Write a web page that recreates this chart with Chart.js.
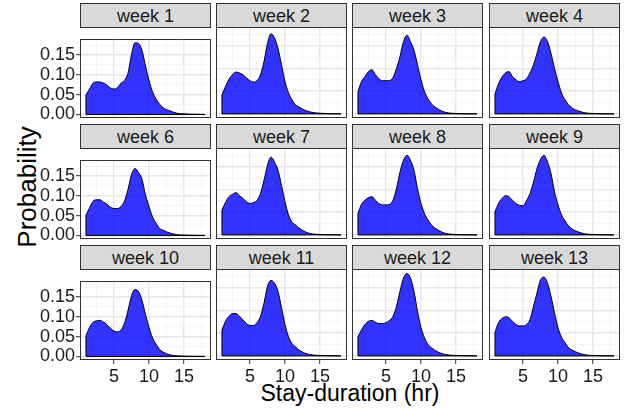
<!DOCTYPE html>
<html>
<head>
<meta charset="utf-8">
<script src="https://cdn.jsdelivr.net/npm/chart.js@4.4.0/dist/chart.umd.min.js"></script>
<style>
  body { margin: 0; background: #fff; }
  #fig { position: relative; width: 635px; height: 410px; overflow: hidden;
         font-family: 'Liberation Sans', Arial, sans-serif; }
  .strip { position: absolute; box-sizing: border-box; background: #d9d9d9;
           border: 1px solid #333; color: #1a1a1a; font-size: 18px;
           text-align: center; line-height: 22px; padding-top: 1px; }
  .panel { position: absolute; }
  .axis-title { position: absolute; color: #000; white-space: nowrap; }
</style>
</head>
<body>
<div id="fig">
  <div class="axis-title" id="ytitle">Probability</div>
  <div class="axis-title" id="xtitle">Stay-duration (hr)</div>
</div>
<script>
// stay-duration grid (hr), shared by every week
const durations = [1, 1.5, 2, 2.5, 3, 3.5, 4, 4.5, 5, 5.5, 6, 6.5, 7, 7.5, 8, 8.5, 9, 9.5,
                   10, 10.5, 11, 11.5, 12, 13, 14, 15, 16, 17, 18];

const weeks = ['week 1', 'week 2', 'week 3', 'week 4', 'week 6', 'week 7',
               'week 8', 'week 9', 'week 10', 'week 11', 'week 12', 'week 13'];

// density per week, one value per entry of `durations`
const week1  = [0.049, 0.064, 0.079, 0.082, 0.082, 0.079, 0.074, 0.067, 0.064, 0.068, 0.079, 0.086, 0.104, 0.151, 0.181, 0.179, 0.162, 0.122, 0.086, 0.057, 0.039, 0.026, 0.017, 0.009, 0.003, 0.0015, 0.0007, 0.0003, 0.0001];
const week2  = [0.042, 0.060, 0.076, 0.086, 0.092, 0.090, 0.086, 0.079, 0.073, 0.070, 0.073, 0.086, 0.115, 0.155, 0.176, 0.167, 0.144, 0.108, 0.071, 0.046, 0.031, 0.020, 0.015, 0.007, 0.003, 0.0015, 0.0007, 0.0003, 0.0001];
const week3  = [0.049, 0.071, 0.082, 0.093, 0.097, 0.086, 0.077, 0.073, 0.073, 0.073, 0.080, 0.100, 0.126, 0.159, 0.173, 0.159, 0.140, 0.108, 0.075, 0.049, 0.033, 0.022, 0.015, 0.006, 0.002, 0.001, 0.0005, 0.0002, 0.0001];
const week4  = [0.044, 0.066, 0.081, 0.090, 0.093, 0.082, 0.075, 0.071, 0.073, 0.077, 0.090, 0.108, 0.133, 0.159, 0.169, 0.159, 0.133, 0.100, 0.071, 0.046, 0.031, 0.020, 0.013, 0.006, 0.002, 0.001, 0.0005, 0.0002, 0.0001];
const week6  = [0.051, 0.069, 0.086, 0.090, 0.090, 0.084, 0.079, 0.071, 0.068, 0.068, 0.073, 0.087, 0.116, 0.153, 0.169, 0.159, 0.142, 0.102, 0.073, 0.047, 0.031, 0.018, 0.013, 0.006, 0.002, 0.001, 0.0005, 0.0002, 0.0001];
const week7  = [0.055, 0.071, 0.084, 0.089, 0.093, 0.086, 0.080, 0.073, 0.069, 0.071, 0.076, 0.091, 0.120, 0.153, 0.171, 0.160, 0.142, 0.109, 0.073, 0.044, 0.028, 0.022, 0.015, 0.006, 0.002, 0.001, 0.0005, 0.0002, 0.0001];
const week8  = [0.047, 0.067, 0.076, 0.082, 0.084, 0.076, 0.069, 0.066, 0.066, 0.067, 0.076, 0.102, 0.138, 0.164, 0.175, 0.164, 0.142, 0.102, 0.069, 0.047, 0.033, 0.022, 0.015, 0.006, 0.002, 0.001, 0.0005, 0.0002, 0.0001];
const week9  = [0.051, 0.069, 0.080, 0.086, 0.084, 0.076, 0.069, 0.065, 0.064, 0.075, 0.091, 0.116, 0.146, 0.166, 0.175, 0.160, 0.135, 0.095, 0.066, 0.044, 0.031, 0.020, 0.013, 0.006, 0.002, 0.001, 0.0005, 0.0002, 0.0001];
const week10 = [0.052, 0.073, 0.086, 0.090, 0.091, 0.087, 0.080, 0.071, 0.064, 0.062, 0.067, 0.084, 0.116, 0.153, 0.169, 0.164, 0.142, 0.106, 0.073, 0.047, 0.031, 0.018, 0.011, 0.004, 0.0015, 0.0008, 0.0004, 0.0002, 0.0001];
const week11 = [0.057, 0.076, 0.087, 0.093, 0.093, 0.087, 0.079, 0.071, 0.067, 0.067, 0.073, 0.087, 0.116, 0.153, 0.166, 0.160, 0.142, 0.106, 0.069, 0.042, 0.027, 0.020, 0.013, 0.005, 0.002, 0.001, 0.0005, 0.0002, 0.0001];
const week12 = [0.042, 0.057, 0.069, 0.076, 0.078, 0.074, 0.071, 0.071, 0.073, 0.078, 0.087, 0.109, 0.142, 0.171, 0.181, 0.171, 0.142, 0.098, 0.062, 0.040, 0.025, 0.018, 0.012, 0.005, 0.002, 0.001, 0.0005, 0.0002, 0.0001];
const week13 = [0.051, 0.073, 0.082, 0.086, 0.084, 0.076, 0.069, 0.066, 0.066, 0.069, 0.080, 0.109, 0.138, 0.167, 0.173, 0.160, 0.131, 0.095, 0.062, 0.041, 0.029, 0.018, 0.013, 0.006, 0.002, 0.001, 0.0005, 0.0002, 0.0001];

const series = [week1, week2, week3, week4, week6, week7, week8, week9, week10, week11, week12, week13];

// gridlines every 2.5 hr / 0.025, labels only on the major ones
const xTicks = [2.5, 5, 7.5, 10, 12.5, 15, 17.5];
const xMajor = [5, 10, 15];
const yTicks = [0, 0.025, 0.05, 0.075, 0.1, 0.125, 0.15, 0.175];
const yMajor = [0, 0.05, 0.1, 0.15];

// facet geometry
const PANEL_W = 131, PANEL_H = 91, STRIP_H = 24;
const colLeft = [80, 216, 352, 489];
const rowTop = [3, 124, 245];
const PAD_L = 70, PAD_B = 30;

const fig = document.getElementById('fig');

const yTitle = document.getElementById('ytitle');
yTitle.style.fontSize = '26px';
yTitle.style.left = '27px';
yTitle.style.top = '187px';
yTitle.style.transform = 'translate(-50%, -50%) rotate(-90deg)';

const xTitle = document.getElementById('xtitle');
xTitle.style.fontSize = '23px';
xTitle.style.left = '350px';
xTitle.style.top = '393px';
xTitle.style.transform = 'translate(-50%, -50%)';

// black polygon edges (left side + baseline) and the dark panel frame
const panelFrame = {
  id: 'panelFrame',
  afterDatasetsDraw(chart) {
    const { ctx, scales: { x, y } } = chart;
    const vals = chart.data.datasets[0].data;
    const first = vals[0], last = vals[vals.length - 1];
    ctx.save();
    ctx.strokeStyle = '#000';
    ctx.lineWidth = 1;
    ctx.beginPath();
    ctx.moveTo(x.getPixelForValue(first.x), y.getPixelForValue(first.y));
    ctx.lineTo(x.getPixelForValue(first.x), y.getPixelForValue(0));
    ctx.lineTo(x.getPixelForValue(last.x), y.getPixelForValue(0));
    ctx.stroke();
    ctx.restore();
  },
  afterDraw(chart) {
    const a = chart.chartArea, ctx = chart.ctx;
    ctx.save();
    ctx.strokeStyle = '#333';
    ctx.lineWidth = 1;
    ctx.strokeRect(Math.round(a.left) + 0.5, Math.round(a.top) + 0.5,
                   Math.round(a.right - a.left) - 1, Math.round(a.bottom - a.top) - 1);
    ctx.restore();
  }
};

function gridWidth(major) {
  return (c) => major.includes(c.tick && c.tick.value) ? 1.4 : 0.7;
}
function gridColor(major) {
  return (c) => major.includes(c.tick && c.tick.value) ? '#e6e6e6' : '#f0f0f0';
}

weeks.forEach((name, i) => {
  const row = Math.floor(i / 4), col = i % 4;
  const showY = col === 0, showX = row === 2;

  const strip = document.createElement('div');
  strip.className = 'strip';
  strip.textContent = name;
  strip.style.left = colLeft[col] + 'px';
  strip.style.top = rowTop[row] + 'px';
  strip.style.width = PANEL_W + 'px';
  strip.style.height = (STRIP_H + 1) + 'px';
  fig.appendChild(strip);

  const wrap = document.createElement('div');
  wrap.className = 'panel';
  wrap.style.left = (colLeft[col] - PAD_L) + 'px';
  wrap.style.top = (rowTop[row] + STRIP_H) + 'px';
  const canvas = document.createElement('canvas');
  canvas.width = PANEL_W + PAD_L;
  canvas.height = PANEL_H + PAD_B;
  wrap.appendChild(canvas);
  fig.appendChild(wrap);

  new Chart(canvas, {
    type: 'line',
    data: {
      datasets: [{
        data: durations.map((d, k) => ({ x: d, y: series[i][k] })),
        borderColor: '#000',
        borderWidth: 1,
        backgroundColor: 'rgba(0,0,255,0.8)',
        fill: 'origin',
        pointRadius: 0,
        cubicInterpolationMode: 'monotone',
      }],
    },
    options: {
      responsive: false,
      animation: false,
      devicePixelRatio: 1,
      layout: { padding: 0 },
      plugins: { legend: { display: false }, tooltip: { enabled: false } },
      scales: {
        x: {
          type: 'linear',
          min: 0.15,
          max: 18.85,
          afterBuildTicks: (s) => { s.ticks = xTicks.map((v) => ({ value: v })); },
          afterFit: (s) => { s.height = PAD_B; },
          border: { display: false },
          grid: {
            color: gridColor(xMajor),
            lineWidth: gridWidth(xMajor),
            drawTicks: showX,
            tickLength: 4,
            tickColor: (c) => xMajor.includes(c.tick && c.tick.value) ? '#333' : 'rgba(0,0,0,0)',
            tickWidth: 1,
          },
          ticks: {
            display: showX,
            autoSkip: false,
            maxRotation: 0,
            padding: 2,
            color: '#1a1a1a',
            font: { family: "'Liberation Sans', Arial, sans-serif", size: 18 },
            callback: (v) => xMajor.includes(v) ? String(v) : '',
          },
        },
        y: {
          min: -0.009,
          max: 0.191,
          afterBuildTicks: (s) => { s.ticks = yTicks.map((v) => ({ value: v })); },
          afterFit: (s) => { s.width = PAD_L; },
          border: { display: false },
          grid: {
            color: gridColor(yMajor),
            lineWidth: gridWidth(yMajor),
            drawTicks: showY,
            tickLength: 4,
            tickColor: (c) => yMajor.includes(c.tick && c.tick.value) ? '#333' : 'rgba(0,0,0,0)',
            tickWidth: 1,
          },
          ticks: {
            display: showY,
            autoSkip: false,
            padding: 1,
            color: '#1a1a1a',
            font: { family: "'Liberation Sans', Arial, sans-serif", size: 18 },
            callback: (v) => yMajor.includes(v) ? v.toFixed(2) : '',
          },
        },
      },
    },
    plugins: [panelFrame],
  });
});
</script>
</body>
</html>
